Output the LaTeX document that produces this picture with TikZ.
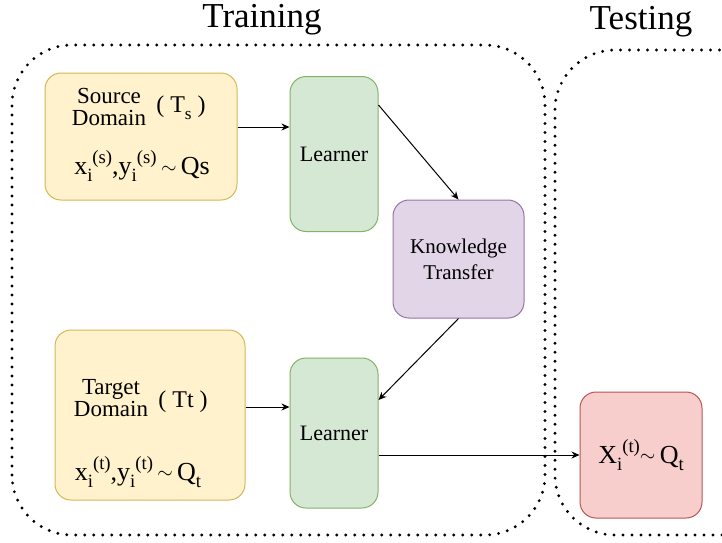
\documentclass[tikz,border=0pt]{standalone}
\usepackage{fontspec}
\setmainfont{Liberation Serif}
\usetikzlibrary{arrows.meta,calc}
\definecolor{ylwF}{HTML}{FFF2CC}\definecolor{ylwD}{HTML}{D6B656}
\definecolor{grnF}{HTML}{D5E8D4}\definecolor{grnD}{HTML}{82B366}
\definecolor{prpF}{HTML}{E1D5E7}\definecolor{prpD}{HTML}{9673A6}
\definecolor{redF}{HTML}{F8CECC}\definecolor{redD}{HTML}{B85450}
\newcommand\fsz[1]{\fontsize{#1}{#1}\selectfont}
\newcommand\tld{\raisebox{0.05em}{\scalebox{0.8}{$\sim$}}}
\newcommand\sbs[1]{\raisebox{-0.28em}{\scalebox{0.72}{#1}}}
\newcommand\sps[1]{\raisebox{0.42em}{\scalebox{0.72}{#1}}}
\begin{document}
\begin{tikzpicture}[x=1pt,y=-1pt,
  boxy/.style={draw,rounded corners=16pt,line width=1pt,inner sep=0pt},
  ybox/.style={boxy,fill=ylwF,draw=ylwD},
  gbox/.style={boxy,fill=grnF,draw=grnD,minimum width=88pt},
  arr/.style={-{Stealth[length=8pt,width=7pt]},line width=1pt},
  dotbox/.style={line width=3.2pt,line cap=round,dash pattern=on 0pt off 9pt,rounded corners=60pt}]
\useasboundingbox (0,0) rectangle (722,542);
% group frames
\draw[dotbox] (12,535) -- (12,45) -- (545,45) -- (545,535) -- cycle;
\draw[dotbox] (740,535) -- (555,535) -- (555,50) -- (740,50);
\node[font=\fsz{35}] (trn) at (262,20) {Training};
\node[font=\fsz{35}] (tstl) at (641,22) {Testing};
% boxes
\node[ybox,minimum width=192pt,minimum height=127pt] (src) at (141,136.5) {};
\node[gbox,minimum height=155pt,font=\fsz{22}] (l1) at (334,154) {Learner};
\node[boxy,fill=prpF,draw=prpD,minimum width=131pt,minimum height=118pt,align=center,font=\fsz{21}] (kt) at (458.5,259) {Knowledge\\[5pt]Transfer};
\node[ybox,minimum width=190pt,minimum height=170pt] (tgt) at (150,415) {};
\node[gbox,minimum height=150pt,font=\fsz{22}] (l2) at (334,433) {Learner};
\node[boxy,fill=redF,draw=redD,minimum width=122pt,minimum height=126pt,font=\fsz{26}] (tst) at (641,455) {X\sbs{i}\sps{(t)}\tld\,Q\sbs{t}};
% texts in source
\node[align=center,font=\fsz{23}] (srcA) at (109,107) {Source\\[-1pt]Domain};
\node[font=\fsz{24}] (srcB) at (181,108) {( T\sbs{s} )};
\node[font=\fsz{26}] (srcC) at (142,166) {x\sbs{i}\sps{(s)},y\sbs{i}\sps{(s)}\,\tld\,Qs};
% texts in target
\node[align=center,font=\fsz{23}] (tgtA) at (111,398) {Target\\[-1pt]Domain};
\node[font=\fsz{24}] (tgtB) at (183,402) {( Tt )};
\node[font=\fsz{26}] (tgtC) at (138,472) {x\sbs{i}\sps{(t)},y\sbs{i}\sps{(t)}\,\tld\,Q\sbs{t}};
% connectors
\draw[arr] ([yshift=9.5pt]src.east) -- ([yshift=9.5pt]src.east -| l1.west);
\draw[arr] ([yshift=49pt]l1.east) -- (kt.north);
\draw[arr] (kt.south) -- ([yshift=33pt]l2.east);
\draw[arr] ([yshift=8pt]tgt.east) -- ([yshift=8pt]tgt.east -| l2.west);
\draw[arr] ([yshift=-22pt]l2.east) -- (tst.west);
\end{tikzpicture}
\end{document}
